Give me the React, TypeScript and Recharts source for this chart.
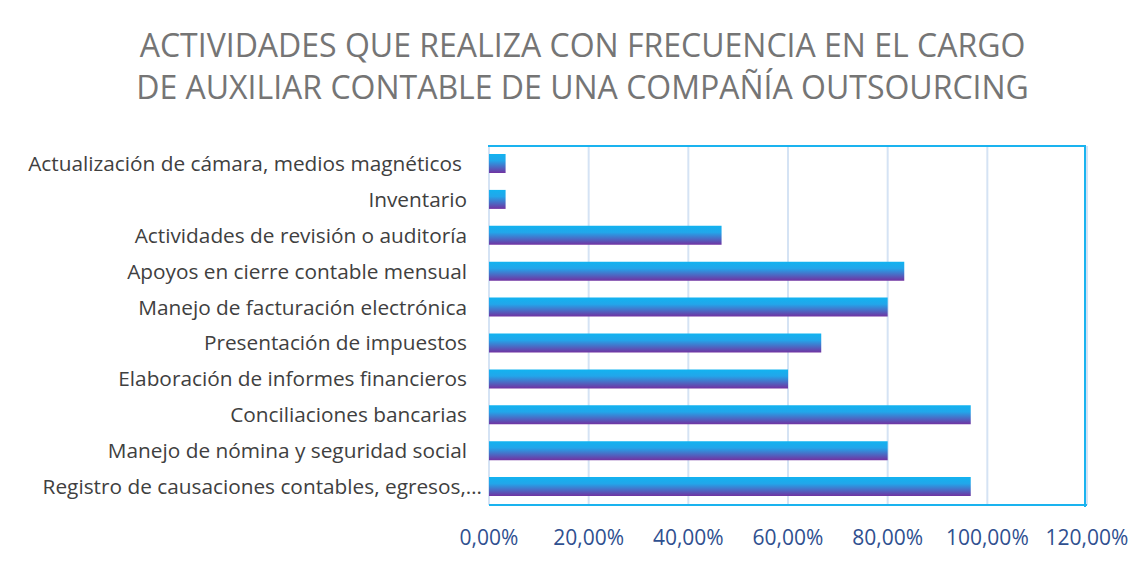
import React from "react";
import { BarChart, Bar, XAxis, YAxis, CartesianGrid } from "recharts";

const categories = [
  "Actualización de cámara, medios magnéticos",
  "Inventario",
  "Actividades de revisión o auditoría",
  "Apoyos en cierre contable mensual",
  "Manejo de facturación electrónica",
  "Presentación de impuestos",
  "Elaboración de informes financieros",
  "Conciliaciones bancarias",
  "Manejo de nómina y seguridad social",
  "Registro de causaciones contables, egresos,…",
];
const values = [0.0333, 0.0333, 0.4667, 0.8333, 0.8, 0.6667, 0.6, 0.9667, 0.8, 0.9667];
const xTicks = [0, 0.2, 0.4, 0.6, 0.8, 1.0, 1.2];
const titleLines = [
  "ACTIVIDADES QUE REALIZA CON FRECUENCIA EN EL CARGO",
  "DE AUXILIAR CONTABLE DE UNA COMPAÑÍA OUTSOURCING",
];

const data = categories.map((name, i) => ({ name, value: values[i] }));

const FONT = "'Open Sans', sans-serif";

const fmt = (v: number) => (v * 100).toFixed(2).replace(".", ",") + "%";

const YTick = (props: any) => {
  const { x, y, payload } = props;
  const label: string = payload.value;
  let dx = -14;
  if (label.endsWith("…")) dx = 1;
  if (label.startsWith("Actualización")) dx = -19;
  return (
    <text
      x={x + dx}
      y={y}
      dy={7}
      textAnchor="end"
      fill="#404040"
      fontSize={20.8}
      fontFamily={FONT}
    >
      {label}
    </text>
  );
};

export default function App() {
  return (
    <div style={{ position: "relative", margin: -8, width: 1146, height: 563, background: "#fff", overflow: "hidden" }}>
      <div
        style={{
          position: "absolute",
          left: 0,
          top: 24,
          width: 1165,
          textAlign: "center",
          fontFamily: FONT,
          fontSize: 32,
          lineHeight: "42px",
          color: "#757575",
        }}
      >
        {titleLines.map((t) => (
          <div key={t}>{t}</div>
        ))}
      </div>
      <div style={{ position: "absolute", left: 0, top: 0 }}>
        <BarChart
          width={1146}
          height={563}
          data={data}
          layout="vertical"
          margin={{ top: 146, right: 59, bottom: 0, left: 0 }}
        >
          <defs>
            <linearGradient id="barGrad" x1="0" y1="0" x2="0" y2="1">
              <stop offset="0" stopColor="#12b3f0" />
              <stop offset="0.35" stopColor="#22a6ea" />
              <stop offset="1" stopColor="#7132a1" />
            </linearGradient>
          </defs>
          <CartesianGrid horizontal={false} stroke="#d5e3f4" strokeWidth={2} />
          <XAxis
            type="number"
            dataKey="value"
            domain={[0, 1.2]}
            ticks={xTicks}
            tickFormatter={fmt}
            axisLine={{ stroke: "#1ab3ef", strokeWidth: 2 }}
            tickLine={false}
            height={58}
            tick={{ fill: "#2f5090", fontSize: 21, fontFamily: FONT, dy: 17 }}
            interval={0}
          />
          <YAxis
            type="category"
            dataKey="name"
            width={489}
            axisLine={false}
            tickLine={false}
            tick={<YTick />}
            interval={0}
          />
          <Bar dataKey="value" fill="url(#barGrad)" barSize={19} isAnimationActive={false} />
        </BarChart>
      </div>
      <div
        style={{
          position: "absolute",
          left: 488,
          top: 145,
          width: 598,
          height: 362,
          borderTop: "2px solid #1ab3ef",
          borderRight: "2px solid #1ab3ef",
          boxSizing: "border-box",
          pointerEvents: "none",
        }}
      />
      <div
        style={{
          position: "absolute",
          left: 6,
          top: 5,
          width: 2,
          height: 560,
          background: "#d0d0d0",
          pointerEvents: "none",
        }}
      />
      <div
        style={{
          position: "absolute",
          left: 6,
          top: 5,
          width: 1140,
          height: 2,
          background: "#d9d9d9",
          pointerEvents: "none",
        }}
      />
    </div>
  );
}
